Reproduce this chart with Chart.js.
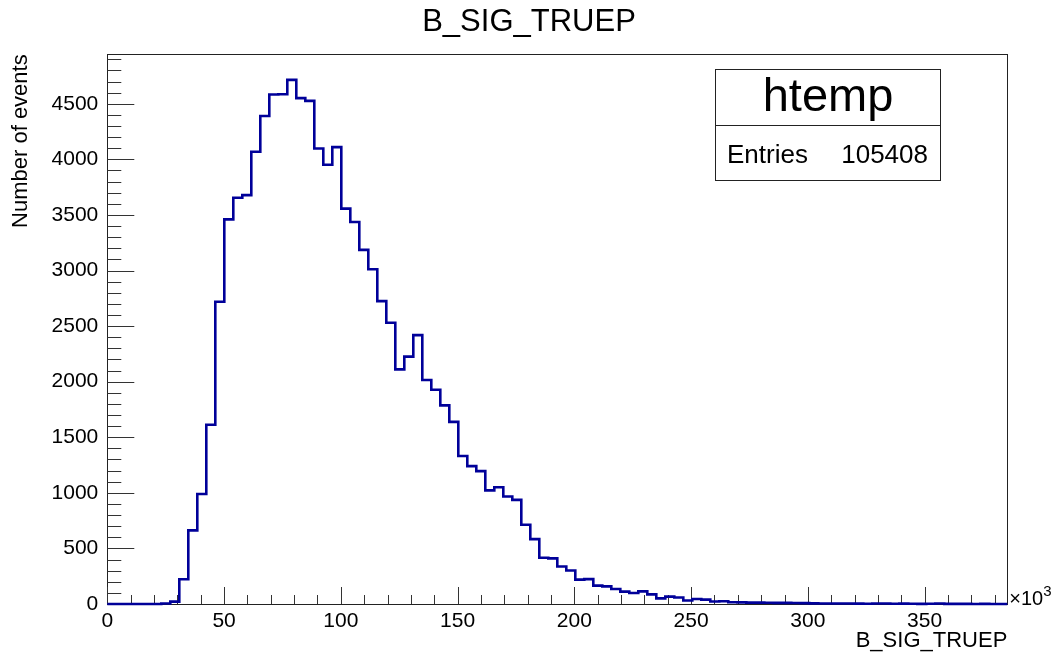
<!DOCTYPE html>
<html><head><meta charset="utf-8">
<script src="https://cdn.jsdelivr.net/npm/chart.js@4/dist/chart.umd.min.js"></script>
<style>html,body{margin:0;padding:0;background:#fff;overflow:hidden;} #wrap{width:1058px;height:655px;position:relative;}</style>
</head><body><div id="wrap"><canvas id="c" width="1058" height="655"></canvas></div>
<script>
// ---- data (x in units of 10^3) ----
const histTitle = 'B_SIG_TRUEP';
const xAxisTitle = 'B_SIG_TRUEP';
const yAxisTitle = 'Number of events';
const statsName = 'htemp';
const statsLabel = 'Entries';
const statsEntries = '105408';
const xMin = 0;
const xMax = 385.4;
const binCounts = [
  0, 0, 0, 0, 0, 0, 4, 21, 222, 662,
  990, 1612, 2719, 3460, 3655, 3678, 4069, 4390, 4583, 4585,
  4715, 4551, 4526, 4097, 3952, 4110, 3557, 3437, 3186, 3012,
  2725, 2530, 2111, 2225, 2419, 2015, 1928, 1787, 1638, 1332,
  1240, 1195, 1022, 1050, 967, 937, 713, 584, 416, 410,
  338, 302, 219, 224, 165, 159, 135, 111, 99, 114,
  87, 51, 66, 58, 31, 45, 39, 22, 25, 16,
  15, 12, 12, 11, 10, 10, 9, 8, 6, 5,
  5, 4, 5, 3, 2, 5, 4, 2, 3, 2,
  1, 2, 4, 1, 1, 1, 0, 1, 0, 0
];
const yMax = 4945;
const xMajorStep = 50, xMinorStep = 10;
const yMajorStep = 500, yMinorStep = 100;

const FONT = '"Liberation Sans", Arial, Helvetica, sans-serif';
const LINE_COLOR = '#000099';

// histogram outline points built from bin edges and counts
const nBins = binCounts.length;
const binW = (xMax - xMin) / nBins;
const outline = [];
binCounts.forEach((v, i) => {
  outline.push({x: xMin + i * binW, y: v});
  outline.push({x: xMin + (i + 1) * binW, y: v});
});

const rootAxes = {
  id: 'rootAxes',
  beforeDatasetsDraw(chart) {
    const {ctx, chartArea: a, scales: {x, y}} = chart;
    ctx.save();
    ctx.strokeStyle = '#222';
    ctx.lineWidth = 1;
    ctx.strokeRect(Math.round(a.left) + 0.5, Math.round(a.top) + 0.5,
                   Math.round(a.right - a.left), Math.round(a.bottom - a.top));
    ctx.strokeStyle = '#333';
    ctx.beginPath();
    for (let v = xMin; v <= xMax + 1e-9; v += xMinorStep) {
      const px = Math.round(x.getPixelForValue(v)) + 0.5;
      const len = (Math.abs(v % xMajorStep) < 1e-6) ? 17 : 9;
      ctx.moveTo(px, a.bottom);
      ctx.lineTo(px, a.bottom - len);
    }
    for (let v = 0; v <= yMax; v += yMinorStep) {
      const py = Math.round(y.getPixelForValue(v)) + 0.5;
      const len = (v % yMajorStep === 0) ? 27 : 14;
      ctx.moveTo(a.left, py);
      ctx.lineTo(a.left + len, py);
    }
    ctx.stroke();
    ctx.restore();
  },
  afterDraw(chart) {
    const {ctx, chartArea: a} = chart;
    ctx.save();
    // title
    ctx.fillStyle = '#000';
    ctx.font = '31px ' + FONT;
    ctx.textAlign = 'center';
    ctx.textBaseline = 'alphabetic';
    ctx.fillText(histTitle, 529, 31);
    // x10^3
    ctx.textAlign = 'left';
    ctx.font = '20px ' + FONT;
    ctx.fillText('\u00d710', a.right + 2, a.bottom + 1);
    ctx.font = '15px ' + FONT;
    ctx.fillText('3', a.right + 36, a.bottom - 8);
    // stats box
    const bx = 715.5, by = 69.5, bw = 225, bh = 111, div = 125.5;
    ctx.fillStyle = '#fff';
    ctx.fillRect(bx, by, bw, bh);
    ctx.strokeStyle = '#222';
    ctx.lineWidth = 1;
    ctx.strokeRect(bx, by, bw, bh);
    ctx.beginPath();
    ctx.moveTo(bx, div); ctx.lineTo(bx + bw, div); ctx.stroke();
    ctx.fillStyle = '#000';
    ctx.textAlign = 'center';
    ctx.font = '47px ' + FONT;
    ctx.fillText(statsName, bx + bw / 2, 111);
    ctx.font = '26px ' + FONT;
    ctx.textAlign = 'left';
    ctx.fillText(statsLabel, 727, 163);
    ctx.textAlign = 'right';
    ctx.fillText(statsEntries, 928, 163);
    ctx.restore();
  }
};

new Chart(document.getElementById('c'), {
  type: 'line',
  data: {
    datasets: [{
      data: outline,
      borderColor: LINE_COLOR,
      borderWidth: 2.6,
      pointRadius: 0,
      tension: 0,
      fill: false,
      clip: false
    }]
  },
  options: {
    responsive: false,
    animation: false,
    devicePixelRatio: 1,
    layout: {padding: {left: 0, right: 50.7, top: 54.3, bottom: 0}},
    plugins: {legend: {display: false}, tooltip: {enabled: false}, title: {display: false}},
    scales: {
      x: {
        type: 'linear', min: xMin, max: xMax,
        afterFit(s) { s.height = 51; },
        border: {display: false},
        grid: {display: true, drawOnChartArea: false, drawTicks: false},
        ticks: {
          stepSize: xMinorStep, includeBounds: false, autoSkip: false, maxRotation: 0,
          padding: 5, color: '#000', font: {family: FONT, size: 21},
          callback: v => (Math.abs(v % xMajorStep) < 1e-6 ? String(v) : '')
        },
        title: {display: true, text: xAxisTitle, align: 'end', color: '#000',
                font: {family: FONT, size: 22}, padding: {top: 0, bottom: 1}}
      },
      y: {
        type: 'linear', min: 0, max: yMax,
        afterFit(s) { s.width = 107.3; },
        border: {display: false},
        grid: {display: true, drawOnChartArea: false, drawTicks: false},
        ticks: {
          stepSize: yMinorStep, includeBounds: false, autoSkip: false,
          padding: 9, color: '#000', font: {family: FONT, size: 21},
          callback: v => (v % yMajorStep === 0 ? String(v) : '')
        },
        title: {display: true, text: yAxisTitle, align: 'end', color: '#000',
                font: {family: FONT, size: 22}, padding: {top: 8, bottom: 0}}
      }
    }
  },
  plugins: [rootAxes]
});
</script>
</body></html>
